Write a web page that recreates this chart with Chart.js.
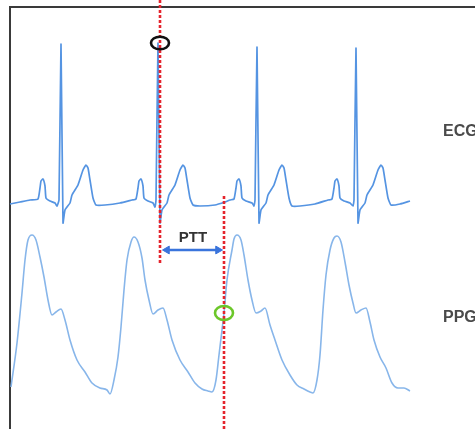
<!DOCTYPE html>
<html>
<head>
<meta charset="utf-8">
<script src="https://cdn.jsdelivr.net/npm/chart.js@4/dist/chart.umd.min.js"></script>
<style>
  html, body { margin: 0; padding: 0; background: #ffffff; overflow: hidden; }
  #wrap { position: relative; width: 475px; height: 429px; }
  #frame { position: absolute; left: 9px; top: 6px; width: 600px; height: 600px;
           border-left: 2px solid #3a3a3a; border-top: 2px solid #3a3a3a; }
  #c { position: absolute; left: 0; top: 0; filter: blur(0.35px); }
</style>
</head>
<body>
<div id="wrap">
  <div id="frame"></div>
  <canvas id="c" width="475" height="429"></canvas>
</div>
<script>
// ---- ECG trace (time units, vertical position units; axis reversed) ----
const ecgTime = [10,20,30,38,40,41,43,45,46,50,55,57,59,61,63,65,70,72,78,83,86,88,90,93,96,105,120,132,
  136,138,139,141,143,144,148,153,155,156,158,160,162,167,169,175,180,183,185,187,190,193,200,215,225,230,
  234,236,237,239,241,242,246,252,254,255,257,259,261,266,268,274,279,282,284,286,289,292,300,315,328,
  332,334,335,337,339,340,344,350,353,354,356,358,360,365,367,373,378,381,383,385,388,391,400,410];
const ecgAmp = [204,202,200,199,188,181,179,186,198,201,203,206,200,44,223,210,203,195,185,170,165,168,180,198,205,205,203,200,
  199,188,181,179,186,198,201,203,207,200,43,223,210,203,195,185,170,165,168,180,198,205,206,205,202,200,
  199,188,181,179,186,198,201,203,206,200,47,223,210,203,195,185,170,165,168,180,198,206,206,204,200,
  199,188,181,179,186,198,201,203,206,200,48,223,210,203,195,185,170,165,168,180,198,205,204,201];

// ---- PPG trace ----
const ppgTime = [11,17,22,25,28,32,36,40,44,48,52,56,61,65,70,77,85,92,100,107,110,114,118,121,124,127,131,134,
  138,142,145,149,153,158,163,167,172,180,188,195,202,208,212,216,219,222,224,227,232,234,237,
  241,244,248,252,256,261,265,270,275,282,290,297,304,310,313,317,320,323,326,330,334,337,
  341,345,349,353,356,361,366,370,374,380,386,392,398,404,410];
const ppgAmp = [387,343,293,260,240,235,240,257,277,300,315,312,309,320,340,360,372,383,388,390,394,380,357,327,290,260,242,237,
  242,258,280,300,314,310,308,320,340,360,372,383,389,391,392,380,355,330,313,280,250,239,235,
  240,255,280,300,313,311,308,325,340,360,375,385,389,392,393,380,355,310,275,250,238,236,
  242,262,285,303,313,310,308,322,340,357,368,383,388,388,391];

// ---- annotations ----
const ecgMarkTime = 160;            // R-peak reference line
const ecgMarkSpan = [0, 263];
const ppgMarkTime = 224;            // PPG foot reference line
const ppgMarkSpan = [196, 429];
const rPeakMark = { t: 160, v: 43 };
const ppgFootMark = { t: 224, v: 313 };
const pttArrow = { from: 167, to: 218, v: 250 };
const pttLabel = { text: 'PTT', t: 193, v: 238 };
const seriesLabels = ['ECG', 'PPG'];
const seriesLabelPos = [{ t: 443, v: 132 }, { t: 443, v: 318 }];

const toXY = (xs, ys) => xs.map((x, i) => ({ x: x, y: ys[i] }));

const overlay = {
  id: 'overlay',
  afterDatasetsDraw(chart) {
    const { ctx, scales: { x, y } } = chart;
    ctx.save();
    // circles
    ctx.lineWidth = 2.6;
    ctx.strokeStyle = '#111111';
    ctx.beginPath();
    ctx.ellipse(x.getPixelForValue(rPeakMark.t), y.getPixelForValue(rPeakMark.v), 9, 6.3, 0, 0, Math.PI * 2);
    ctx.stroke();
    ctx.strokeStyle = '#6cc72a';
    ctx.beginPath();
    ctx.ellipse(x.getPixelForValue(ppgFootMark.t), y.getPixelForValue(ppgFootMark.v), 9, 7, 0, 0, Math.PI * 2);
    ctx.stroke();
    // texts
    ctx.textAlign = 'center';
    ctx.textBaseline = 'middle';
    ctx.fillStyle = '#333333';
    ctx.font = 'bold 15px "Liberation Sans", Arial, sans-serif';
    ctx.fillText(pttLabel.text, x.getPixelForValue(pttLabel.t), y.getPixelForValue(pttLabel.v));
    ctx.textAlign = 'left';
    ctx.fillStyle = '#4a4a4a';
    ctx.font = 'bold 16px "Liberation Sans", Arial, sans-serif';
    seriesLabels.forEach((s, i) => {
      ctx.fillText(s, x.getPixelForValue(seriesLabelPos[i].t), y.getPixelForValue(seriesLabelPos[i].v));
    });
    ctx.restore();
  }
};

new Chart(document.getElementById('c'), {
  type: 'line',
  data: {
    datasets: [
      {
        label: 'ECG marker',
        data: [{ x: ecgMarkTime, y: ecgMarkSpan[0] }, { x: ecgMarkTime, y: ecgMarkSpan[1] }],
        borderColor: '#e5242c', borderWidth: 2.6, borderDash: [3, 2],
        pointRadius: 0, order: 0
      },
      {
        label: 'PPG marker',
        data: [{ x: ppgMarkTime, y: ppgMarkSpan[0] }, { x: ppgMarkTime, y: ppgMarkSpan[1] }],
        borderColor: '#e5242c', borderWidth: 2.6, borderDash: [3, 2],
        pointRadius: 0, order: 0
      },
      {
        label: 'PTT',
        data: [{ x: pttArrow.from, y: pttArrow.v }, { x: pttArrow.to, y: pttArrow.v }],
        borderColor: '#3a74dc', borderWidth: 2.4,
        pointStyle: 'triangle', pointRadius: 4.5, pointRotation: [-90, 90],
        pointBackgroundColor: '#3a74dc', pointBorderColor: '#3a74dc', pointBorderWidth: 1,
        order: 1
      },
      {
        label: 'ECG',
        data: toXY(ecgTime, ecgAmp),
        borderColor: '#5594e2', borderWidth: 1.7, tension: 0.15,
        pointRadius: 0, order: 2
      },
      {
        label: 'PPG',
        data: toXY(ppgTime, ppgAmp),
        borderColor: '#88b6ea', borderWidth: 1.6, cubicInterpolationMode: 'monotone',
        pointRadius: 0, order: 2
      }
    ]
  },
  options: {
    responsive: false,
    animation: false,
    events: [],
    layout: { padding: 0, autoPadding: false },
    plugins: { legend: { display: false }, tooltip: { enabled: false } },
    scales: {
      x: { type: 'linear', min: 0, max: 475, display: false },
      y: { type: 'linear', min: 0, max: 429, reverse: true, display: false }
    }
  },
  plugins: [overlay]
});
</script>
</body>
</html>
